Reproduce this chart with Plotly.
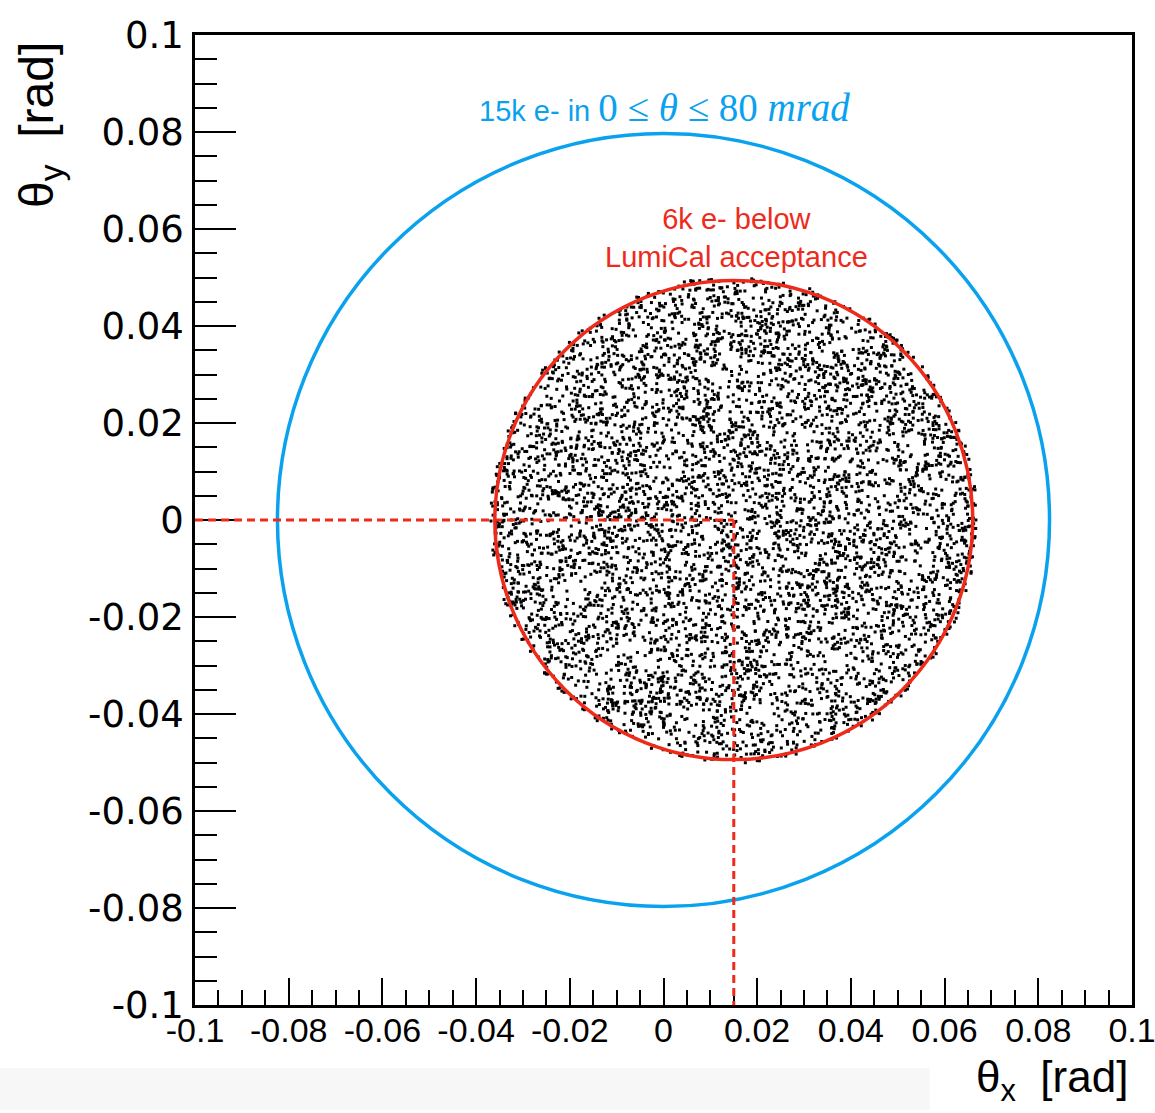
import numpy as np
import plotly.graph_objects as go

# Axis ranges and tick labels (rad)
x_range = [-0.1, 0.1]
y_range = [-0.1, 0.1]
tick_vals = [-0.1, -0.08, -0.06, -0.04, -0.02, 0.0, 0.02, 0.04, 0.06, 0.08, 0.1]
tick_text = ["-0.1", "-0.08", "-0.06", "-0.04", "-0.02", "0",
             "0.02", "0.04", "0.06", "0.08", "0.1"]

# Outer cone: 0 <= theta <= 80 mrad (centre, half-widths along x / y)
outer_center = [0.0, 0.0]
outer_radius = [0.0824, 0.0797]

# LumiCal acceptance boundary (centre, half-widths along x / y)
inner_center = [0.0150, 0.0]
inner_radius = [0.0510, 0.0494]

# Electron sample below the acceptance: event count and spread of the cloud
n_events = 6000
cloud_radius = [0.0519, 0.0502]

BLUE = "#0aa2ee"
RED = "#ee2a1b"

# Uniform sample of electron directions inside the acceptance disc
rng = np.random.default_rng(20)
r = np.sqrt(rng.random(n_events))
phi = 2 * np.pi * rng.random(n_events)
theta_x = inner_center[0] + cloud_radius[0] * r * np.cos(phi)
theta_y = inner_center[1] + cloud_radius[1] * r * np.sin(phi)

fig = go.Figure()
fig.add_trace(go.Scatter(
    x=theta_x, y=theta_y, mode="markers",
    marker=dict(symbol="square", size=3, color="black", line=dict(width=0)),
    hoverinfo="skip", showlegend=False,
))

# Circles
fig.add_shape(type="circle", xref="x", yref="y",
              x0=outer_center[0] - outer_radius[0], x1=outer_center[0] + outer_radius[0],
              y0=outer_center[1] - outer_radius[1], y1=outer_center[1] + outer_radius[1],
              line=dict(color=BLUE, width=3.5))
fig.add_shape(type="circle", xref="x", yref="y",
              x0=inner_center[0] - inner_radius[0], x1=inner_center[0] + inner_radius[0],
              y0=inner_center[1] - inner_radius[1], y1=inner_center[1] + inner_radius[1],
              line=dict(color=RED, width=3.5))

# Dashed guides to the acceptance centre
fig.add_shape(type="line", xref="x", yref="y",
              x0=x_range[0], x1=inner_center[0], y0=inner_center[1], y1=inner_center[1],
              line=dict(color=RED, width=3, dash="8px,5px"))
fig.add_shape(type="line", xref="x", yref="y",
              x0=inner_center[0], x1=inner_center[0], y0=inner_center[1], y1=y_range[0],
              line=dict(color=RED, width=3, dash="8px,5px"))

# Light band along the bottom edge
fig.add_shape(type="rect", xref="paper", yref="paper", layer="below",
              x0=-0.21, x1=0.784, y0=-0.1082, y1=-0.0649,
              fillcolor="#f7f7f7", line=dict(width=0))

# Labels
fig.add_annotation(
    xref="x", yref="paper", x=0.0003, y=(1005 - 108) / 970, xanchor="center", yanchor="middle",
    text=("<span style='font-family:Liberation Sans'>15k e- in </span>"
          "<span style='font-family:Liberation Serif;font-size:39px'>0 \u2264 <i>\u03b8</i> \u2264 80 <i>mrad</i></span>"),
    font=dict(family="Liberation Sans", size=29, color=BLUE), showarrow=False,
)
fig.add_annotation(
    xref="x", yref="paper", x=0.0155, y=(1005 - 238) / 970, xanchor="center", yanchor="middle",
    text="6k e- below<br>LumiCal acceptance",
    font=dict(family="Liberation Sans", size=29, color=RED), showarrow=False,
)

# Axis titles
fig.add_annotation(
    xref="paper", yref="paper", x=(1130 - 195) / 937, y=(1005 - 1080) / 970,
    xanchor="right", yanchor="middle", text="\u03b8<sub>x</sub>  [rad]",
    font=dict(family="Liberation Sans", size=44, color="black"), showarrow=False,
)
fig.add_annotation(
    xref="paper", yref="paper", x=(40 - 195) / 937, y=(1005 - 40) / 970,
    xanchor="center", yanchor="top", textangle=-90, text="\u03b8<sub>y</sub>  [rad]",
    font=dict(family="Liberation Sans", size=48, color="black"), showarrow=False,
)

fig.update_xaxes(
    range=x_range, showgrid=False, zeroline=False, automargin=False,
    showline=True, linecolor="black", linewidth=2.5, mirror=True,
    ticks="inside", ticklen=27, tickwidth=2, tickcolor="black",
    tickvals=tick_vals, ticktext=tick_text, ticklabelstandoff=-7,
    ticklabeloverflow="allow",
    tickfont=dict(family="Liberation Sans", size=34, color="black"),
    minor=dict(ticks="inside", ticklen=15, tickwidth=2, tickcolor="black", dtick=0.005, tick0=0),
)
fig.update_yaxes(
    range=y_range, showgrid=False, zeroline=False, automargin=False,
    showline=True, linecolor="black", linewidth=2.5, mirror=True,
    ticks="inside", ticklen=41, tickwidth=2, tickcolor="black",
    tickvals=tick_vals, ticktext=tick_text, ticklabelstandoff=1,
    ticklabeloverflow="allow",
    tickfont=dict(family="DejaVu Sans", size=37, color="black"),
    minor=dict(ticks="inside", ticklen=22, tickwidth=2, tickcolor="black", dtick=0.005, tick0=0),
)

fig.update_layout(
    width=1155, height=1113,
    margin=dict(l=195, r=23, t=35, b=108),
    paper_bgcolor="white", plot_bgcolor="white",
    showlegend=False,
)

fig.write_html("out.html")
